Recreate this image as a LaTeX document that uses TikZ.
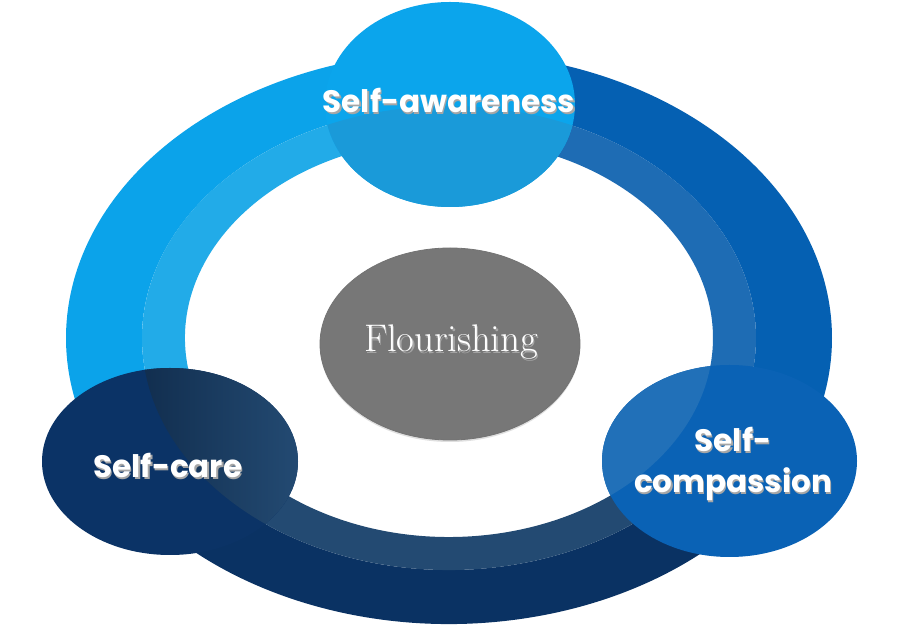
\documentclass[tikz,border=0pt]{standalone}
\usepackage{fontspec}
\newfontfamily\gothic{Poppins}
\usetikzlibrary{shapes.geometric,shadows}

\definecolor{skyring}{HTML}{0BA3EA}
\definecolor{skyband}{HTML}{22ABE8}
\definecolor{royalring}{HTML}{0560B2}
\definecolor{royalband}{HTML}{1E6CB4}
\definecolor{navyring}{HTML}{0A3263}
\definecolor{navyband}{HTML}{234A72}
\definecolor{skynode}{HTML}{0BA5EC}
\definecolor{royalnode}{HTML}{0A62B5}
\definecolor{navynode}{HTML}{0B3366}
\definecolor{skyglow}{HTML}{1A9AD9}
\definecolor{royalglow}{HTML}{2170B8}
\definecolor{coregray}{HTML}{777777}

% white text with a soft dark shadow under it
\newcommand\shadowed[1]{\makebox[0pt][l]{\hspace{1.2pt}\raisebox{-1.8pt}{\color{black!35}#1}}#1}

\begin{document}
\begin{tikzpicture}[x=1pt, y=1pt,
	bubble/.style={ellipse, inner sep=0pt},
	word/.style={text=white, inner sep=0pt, font=\gothic\bfseries\fontsize{31}{41}\selectfont},
	]
	\useasboundingbox (0,0) rectangle (900,640);
	\fill[white] (0,0) rectangle (900,640);

	% the ring, in three parts
	\begin{scope}[shift={(449,302)}]
		\foreach \a/\b/\ring/\band in {-30/75/royalring/royalband, 75/195/skyring/skyband, 195/330/navyring/navyband}{
			\fill[\ring] (\a:383 and 286) arc[start angle=\a, end angle=\b, x radius=383, y radius=286]
				-- (\b:307 and 232) arc[start angle=\b, end angle=\a, x radius=307, y radius=232] -- cycle;
			\fill[\band] (\a:307 and 232) arc[start angle=\a, end angle=\b, x radius=307, y radius=232]
				-- (\b:264 and 199) arc[start angle=\b, end angle=\a, x radius=264, y radius=199] -- cycle;
		}
	\end{scope}

	\node[bubble, fill=navynode, minimum width=256, minimum height=187] (care) at (170,178.5) {};
	\node[bubble, fill=royalnode, minimum width=255, minimum height=192] (comp) at (729.5,179) {};
	\node[bubble, fill=skynode, minimum width=250, minimum height=205] (aware) at (450,535.5) {};

	% lighter parts of the bubbles, inside the ring
	\begin{scope}
		\clip (449,302) ellipse[x radius=307, y radius=232];
		\fill[skyglow] (aware.center) ellipse[x radius=125, y radius=102.5];
		\shade[left color=navynode!55!black, right color=navyband] (care.center) ellipse[x radius=128, y radius=93.5];
	\end{scope}
	\begin{scope}
		\clip (449,302) ellipse[x radius=264, y radius=199];
		\fill[royalglow] (comp.center) ellipse[x radius=127.5, y radius=96];
	\end{scope}

	\node[bubble, fill=coregray, draw=black!55, line width=0.8pt, minimum width=260, minimum height=192,
		drop shadow={opacity=0.25, shadow xshift=0pt, shadow yshift=-2pt}] (core) at (450,296) {};

	\node[word, anchor=base] (awaretxt) at (449,527) {\shadowed{Self-awareness}};
	\node[word, anchor=base] (caretxt) at (168,162) {\shadowed{Self-care}};
	\node[word, anchor=base, align=center] (comptxt) at (733,147) {\shadowed{Self-}\\\shadowed{compassion}};
	\node[text=white, inner sep=0pt, anchor=base, font=\fontsize{38.5}{44}\selectfont] (coretxt) at (451,288) {\shadowed{Flourishing}};
\end{tikzpicture}
\end{document}
